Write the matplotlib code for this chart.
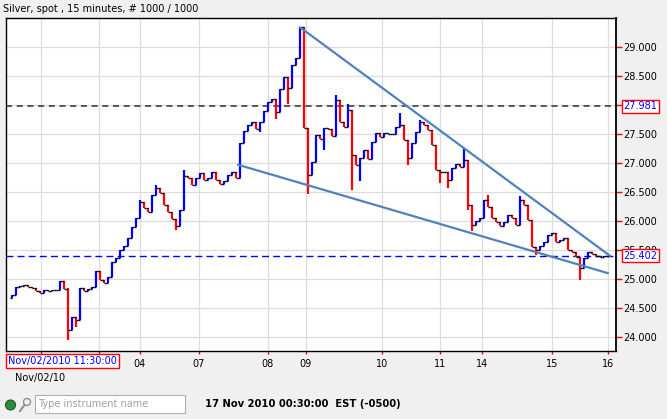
import matplotlib.pyplot as plt
from matplotlib.patches import Rectangle, Circle
from matplotlib.lines import Line2D
from matplotlib.transforms import blended_transform_factory

# chart data (15 minute bars, resampled to 150 bars)
title = "Silver, spot , 15 minutes, # 1000 / 1000"

first_open = 24.68
closes = [
    24.72, 24.86, 24.88, 24.90, 24.86, 24.84, 24.79, 24.76, 24.81, 24.79,
    24.81, 24.81, 24.97, 24.83, 24.12, 24.34, 24.29, 24.84, 24.79, 24.83,
    24.86, 25.14, 24.98, 24.93, 25.03, 25.29, 25.36, 25.50, 25.57, 25.71,
    25.90, 26.05, 26.33, 26.22, 26.16, 26.45, 26.57, 26.48, 26.28, 26.16,
    26.03, 25.91, 26.19, 26.78, 26.74, 26.62, 26.74, 26.83, 26.71, 26.74,
    26.84, 26.71, 26.64, 26.69, 26.79, 26.84, 26.74, 27.34, 27.55, 27.66,
    27.71, 27.59, 27.71, 27.90, 28.05, 28.10, 27.88, 28.28, 28.48, 28.29,
    28.69, 28.81, 29.34, 27.60, 26.79, 27.02, 27.48, 27.41, 27.60, 27.59,
    27.47, 28.09, 27.71, 27.62, 27.91, 27.14, 26.97, 27.09, 27.22, 27.07,
    27.36, 27.52, 27.45, 27.52, 27.50, 27.50, 27.62, 27.66, 27.40, 27.09,
    27.34, 27.53, 27.71, 27.66, 27.57, 27.31, 26.88, 26.84, 26.84, 26.71,
    26.91, 26.98, 26.93, 27.05, 26.28, 25.93, 26.00, 26.05, 26.36, 26.24,
    26.05, 25.98, 25.91, 25.98, 26.10, 26.05, 25.93, 26.36, 26.28, 26.02,
    25.55, 25.50, 25.57, 25.64, 25.76, 25.79, 25.64, 25.67, 25.71, 25.50,
    25.47, 25.38, 25.19, 25.36, 25.47, 25.43, 25.40, 25.38, 25.40, 25.40,
]

# wicks that reach past the open/close
spike_high = {14: 24.84, 32: 26.36, 36: 26.62, 43: 26.88, 72: 29.34, 73: 28.19,
              81: 28.17, 84: 28.02, 97: 27.86, 102: 27.74, 113: 27.26, 119: 26.45,
              127: 26.43}
spike_low = {14: 23.95, 15: 24.17, 16: 24.17, 41: 25.85, 62: 27.53, 66: 27.76,
             69: 28.02, 74: 26.47, 78: 27.22, 85: 26.53, 87: 26.69, 99: 26.97,
             107: 26.66, 109: 26.57, 114: 26.19, 115: 25.83, 131: 25.41, 142: 24.98}

date_ticks = [7.25, 21.75, 32, 46.75, 64, 73.5, 92.5, 107, 117.5, 135, 149]
date_labels = ["", "", "04", "07", "08", "09", "10", "11", "14", "15", "16"]
price_ticks = [24.0, 24.5, 25.0, 25.5, 26.0, 26.5, 27.0, 27.5, 28.0, 28.5, 29.0]

# hand drawn wedge
upper_x = [72, 149.5]
upper_y = [29.34, 25.40]
lower_x = [56.5, 149]
lower_y = [26.97, 25.10]

level_high = 27.981
level_last = 25.402

start_label = "Nov/02/2010 11:30:00"
start_date = "Nov/02/10"
status_text = "17 Nov 2010 00:30:00  EST (-0500)"

plt.rcParams['font.family'] = ['DejaVu Sans']

W, H = 667, 419
fig = plt.figure(figsize=(W / 100, H / 100), dpi=100, facecolor='#f0f0f0')

# plot area in pixels: x 6..616, y 18..351
ax = fig.add_axes([6 / W, 1 - 351 / H, 610 / W, 333 / H])
ax.set_facecolor('white')

x = list(range(len(closes)))
opens = [first_open] + closes[:-1]
highs = [max(o, c, spike_high.get(i, 0)) for i, (o, c) in enumerate(zip(opens, closes))]
lows = [min(o, c, spike_low.get(i, 99)) for i, (o, c) in enumerate(zip(opens, closes))]
colors = ['#0000ff' if c >= o else '#ff0000' for o, c in zip(opens, closes)]

ax.vlines(x, lows, highs, colors=colors, lw=1.6, zorder=3)
ax.hlines(opens, [i - 0.45 for i in x], x, colors='black', lw=1.0, zorder=4)
ax.hlines(closes, x, [i + 0.45 for i in x], colors='black', lw=1.0, zorder=4)

# wedge lines
ax.plot(upper_x, upper_y, color='#4f82be', lw=1.6, zorder=5, solid_capstyle='round')
ax.plot(lower_x, lower_y, color='#4f82be', lw=1.6, zorder=5, solid_capstyle='round')

# horizontal levels
ax.axhline(level_high, color='#303030', lw=1.1, ls=(0, (4, 3)), zorder=2)
ax.axhline(level_last, color='#0000ff', lw=1.0, ls=(0, (5, 3)), zorder=2)

ax.set_xlim(-1.5, 151)
ax.set_ylim(23.759, 29.5)

ax.set_xticks(date_ticks)
ax.set_xticklabels(date_labels)
ax.set_yticks(price_ticks)
ax.set_yticklabels(["%.3f" % p for p in price_ticks])
ax.yaxis.tick_right()
ax.tick_params(axis='y', colors='red', labelcolor='black', length=4, width=1,
               labelsize=7, pad=1.5, direction='out')
ax.tick_params(axis='x', colors='red', labelcolor='black', length=2.5, width=1,
               labelsize=7, pad=3, direction='out')
ax.grid(True, color='#dcdcdc', lw=0.9, zorder=0)
ax.set_axisbelow(True)
for s in ax.spines.values():
    s.set_color('black')
    s.set_linewidth(1.0)
ax.spines['right'].set_linewidth(1.3)

# boxed level labels on the price axis
trans = blended_transform_factory(ax.transAxes, ax.transData)
for lv in (level_high, level_last):
    ax.text(1.012, lv, "%.3f" % lv, transform=trans, color='#0000ff', fontsize=7,
            va='center', ha='left', zorder=10,
            bbox=dict(boxstyle='square,pad=0.15', fc='white', ec='red', lw=1))

# title and bottom texts
fig.text(3 / W, 1 - 9 / H, title, fontsize=7, va='center', ha='left')
fig.text(8 / W, 1 - 361 / H, start_label, fontsize=7, color='#0000ff', va='center',
         ha='left', bbox=dict(boxstyle='square,pad=0.2', fc='white', ec='red', lw=1))
fig.text(15 / W, 1 - 378 / H, start_date, fontsize=7, va='center', ha='left')

# status bar
inch = fig.dpi_scale_trans
fig.add_artist(Circle((10.5 / 100, (H - 405) / 100), 0.05, transform=inch,
                      fc='#2f8a3c', ec='#1e5a28', lw=0.8))
fig.add_artist(Circle((27 / 100, (H - 402) / 100), 0.035, transform=inch,
                      fc='none', ec='#909090', lw=1))
fig.add_artist(Line2D([24.5 / 100, 20 / 100], [(H - 405) / 100, (H - 411) / 100],
                      transform=inch, color='#909090', lw=1.5))
fig.add_artist(Rectangle((35 / 100, (H - 413) / 100), 150 / 100, 18 / 100,
                         transform=inch, fc='white', ec='#b0b0b0', lw=0.8))
fig.text(38 / W, 1 - 404 / H, "Type instrument name", fontsize=7, color='#a0a0a0',
         va='center', ha='left')
fig.text(205 / W, 1 - 404 / H, status_text, fontsize=7.2, fontweight='bold',
         va='center', ha='left')

fig.savefig('out.png', dpi=100, facecolor=fig.get_facecolor())
